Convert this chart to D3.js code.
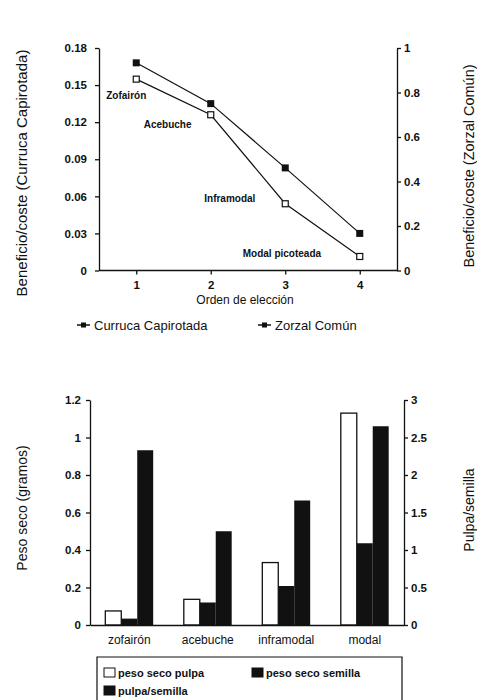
<!DOCTYPE html>
<html>
<head>
<meta charset="utf-8">
<script src="https://cdn.jsdelivr.net/npm/d3@7"></script>
<style>
  body { margin: 0; background: #fff; }
  svg { font-family: "Liberation Sans", Arial, sans-serif; }
  .tick text { font-size: 11.5px; font-weight: bold; fill: #111; }
  .cat .tick text { font-size: 12px; font-weight: normal; }
  .domain, .tick line { stroke: #111; stroke-width: 1.3; }
</style>
</head>
<body>
<div id="chart"></div>
<script>
// Top chart data
const orden = [1, 2, 3, 4];
const curruca = [0.168, 0.135, 0.083, 0.030];   // left axis
const zorzal = [0.86, 0.70, 0.30, 0.063];       // right axis
const frutos = ['Zofairón', 'Acebuche', 'Inframodal', 'Modal picoteada'];
const ticksCurruca = [0, 0.03, 0.06, 0.09, 0.12, 0.15, 0.18];
const ticksZorzal = [0, 0.2, 0.4, 0.6, 0.8, 1];

// Bottom chart data
const categorias = ['zofairón', 'acebuche', 'inframodal', 'modal'];
const pesoPulpa = [0.075, 0.137, 0.333, 1.13];
const pesoSemilla = [0.034, 0.12, 0.208, 0.436];
const pulpaSemilla = [2.33, 1.25, 1.66, 2.65];   // right axis
const ticksPeso = [0, 0.2, 0.4, 0.6, 0.8, 1, 1.2];
const ticksRatio = [0, 0.5, 1, 1.5, 2, 2.5, 3];

const width = 477, height = 700;
const svg = d3.select('#chart').append('svg')
  .attr('width', width).attr('height', height);

// ---------- top chart ----------
const x = d3.scalePoint().domain(orden).range([99, 397]).padding(0.5);
const yL = d3.scaleLinear().domain([0, 0.18]).range([270.5, 48]);
const yR = d3.scaleLinear().domain([0, 1]).range([270.5, 48]);

svg.append('g').attr('transform', 'translate(0,270.5)')
  .call(d3.axisBottom(x).tickSize(4).tickPadding(6))
  .call(g => g.select('.domain').attr('d', 'M99,0H397'));
svg.append('g').attr('transform', 'translate(99,0)')
  .call(d3.axisLeft(yL).tickValues(ticksCurruca).tickFormat(d => String(d)).tickSize(4).tickSizeOuter(0).tickPadding(8));
svg.append('g').attr('transform', 'translate(397,0)')
  .call(d3.axisRight(yR).tickValues(ticksZorzal).tickFormat(d => String(d)).tickSize(4).tickSizeOuter(0).tickPadding(3));

const lineL = d3.line().x((d, i) => x(orden[i])).y(d => yL(d));
const lineR = d3.line().x((d, i) => x(orden[i])).y(d => yR(d));

svg.append('path').attr('d', lineL(curruca)).attr('fill', 'none').attr('stroke', '#111').attr('stroke-width', 1.2);
svg.append('path').attr('d', lineR(zorzal)).attr('fill', 'none').attr('stroke', '#111').attr('stroke-width', 1.2);

svg.selectAll('.mk-c').data(curruca).join('rect')
  .attr('x', (d, i) => x(orden[i]) - 3.5).attr('y', d => yL(d) - 3.5)
  .attr('width', 7).attr('height', 7).attr('fill', '#111');
svg.selectAll('.mk-z').data(zorzal).join('rect')
  .attr('x', (d, i) => x(orden[i]) - 3).attr('y', d => yR(d) - 3)
  .attr('width', 6).attr('height', 6).attr('fill', '#fff').attr('stroke', '#111').attr('stroke-width', 1.2);

// point labels (placed left of the lower series)
const labelOffsets = [[-30, 20], [-67, 13], [-81, -2], [-117, 1]];
svg.selectAll('.lbl').data(frutos).join('text')
  .attr('x', (d, i) => x(orden[i]) + labelOffsets[i][0])
  .attr('y', (d, i) => yR(zorzal[i]) + labelOffsets[i][1])
  .attr('font-size', 10).attr('font-weight', 'bold').attr('fill', '#111')
  .text(d => d);

svg.append('text').attr('x', 245).attr('y', 304).attr('text-anchor', 'middle')
  .attr('font-size', 12).attr('fill', '#111').text('Orden de elección');
svg.append('text').attr('transform', 'translate(27,173) rotate(-90)').attr('text-anchor', 'middle')
  .attr('font-size', 15).attr('fill', '#111').text('Beneficio/coste (Curruca Capirotada)');
svg.append('text').attr('transform', 'translate(474,166) rotate(-90)').attr('text-anchor', 'middle')
  .attr('font-size', 14.5).attr('fill', '#111').text('Beneficio/coste (Zorzal Común)');

// top legend
const legTop = [{name: 'Curruca Capirotada', x: 77}, {name: 'Zorzal Común', x: 258}];
legTop.forEach(l => {
  svg.append('line').attr('x1', l.x).attr('x2', l.x + 13).attr('y1', 325).attr('y2', 325)
    .attr('stroke', '#111').attr('stroke-width', 1.5);
  svg.append('rect').attr('x', l.x + 4).attr('y', 322.5).attr('width', 5).attr('height', 5).attr('fill', '#111');
  svg.append('text').attr('x', l.x + 17).attr('y', 330).attr('font-size', 13).attr('fill', '#111').text(l.name);
});

// ---------- bottom chart ----------
const xb = d3.scaleBand().domain(categorias).range([90, 404]).paddingInner(0.39).paddingOuter(0.195);
const series = ['pulpa', 'semilla', 'ratio'];
const xs = d3.scaleBand().domain(series).range([0, xb.bandwidth()]);
const yb = d3.scaleLinear().domain([0, 1.2]).range([625, 400]);
const yb2 = d3.scaleLinear().domain([0, 3]).range([625, 400]);

const groups = svg.selectAll('.grp').data(categorias).join('g')
  .attr('transform', d => `translate(${xb(d)},0)`);
groups.append('rect').attr('x', xs('pulpa')).attr('width', xs.bandwidth())
  .attr('y', (d, i) => yb(pesoPulpa[i])).attr('height', (d, i) => 625 - yb(pesoPulpa[i]))
  .attr('fill', '#fff').attr('stroke', '#111').attr('stroke-width', 1.3);
groups.append('rect').attr('x', xs('semilla')).attr('width', xs.bandwidth())
  .attr('y', (d, i) => yb(pesoSemilla[i])).attr('height', (d, i) => 625 - yb(pesoSemilla[i]))
  .attr('fill', '#111');
groups.append('rect').attr('x', xs('ratio')).attr('width', xs.bandwidth())
  .attr('y', (d, i) => yb2(pulpaSemilla[i])).attr('height', (d, i) => 625 - yb2(pulpaSemilla[i]))
  .attr('fill', '#111');

svg.append('g').attr('class', 'cat').attr('transform', 'translate(0,625)')
  .call(d3.axisBottom(xb).tickSize(0).tickPadding(10));
svg.append('g').attr('transform', 'translate(90,0)')
  .call(d3.axisLeft(yb).tickValues(ticksPeso).tickFormat(d => String(d)).tickSize(4).tickSizeOuter(0).tickPadding(5));
svg.append('g').attr('transform', 'translate(404,0)')
  .call(d3.axisRight(yb2).tickValues(ticksRatio).tickFormat(d => String(d)).tickSize(4).tickSizeOuter(0).tickPadding(3));

svg.append('text').attr('transform', 'translate(27,508) rotate(-90)').attr('text-anchor', 'middle')
  .attr('font-size', 14).attr('fill', '#111').text('Peso seco (gramos)');
svg.append('text').attr('transform', 'translate(474,510) rotate(-90)').attr('text-anchor', 'middle')
  .attr('font-size', 14).attr('fill', '#111').text('Pulpa/semilla');

// bottom legend
svg.append('path').attr('d', 'M97,702V657H402V702').attr('fill', 'none').attr('stroke', '#111').attr('stroke-width', 1.2);
const legBot = [
  {name: 'peso seco pulpa', x: 104, y: 668, fill: '#fff'},
  {name: 'peso seco semilla', x: 252, y: 668, fill: '#111'},
  {name: 'pulpa/semilla', x: 104, y: 686, fill: '#111'}
];
legBot.forEach(l => {
  svg.append('rect').attr('x', l.x).attr('y', l.y).attr('width', 11).attr('height', 9)
    .attr('fill', l.fill).attr('stroke', '#111').attr('stroke-width', 1);
  svg.append('text').attr('x', l.x + 14).attr('y', l.y + 9).attr('font-size', 11).attr('font-weight', 'bold')
    .attr('fill', '#111').text(l.name);
});
</script>
</body>
</html>
